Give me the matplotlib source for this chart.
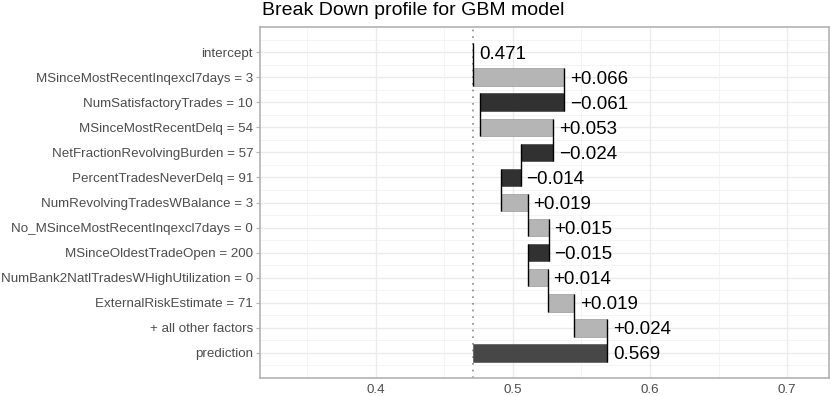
import numpy as np
import matplotlib
matplotlib.use('Agg')
import matplotlib.pyplot as plt

plt.rcParams['font.family'] = ['Liberation Sans', 'DejaVu Sans']

# break down data for the GBM model
features = ['MSinceMostRecentInqexcl7days = 3', 'NumSatisfactoryTrades = 10',
            'MSinceMostRecentDelq = 54', 'NetFractionRevolvingBurden = 57',
            'PercentTradesNeverDelq = 91', 'NumRevolvingTradesWBalance = 3',
            'No_MSinceMostRecentInqexcl7days = 0', 'MSinceOldestTradeOpen = 200',
            'NumBank2NatlTradesWHighUtilization = 0', 'ExternalRiskEstimate = 71',
            '+ all other factors']
contrib = [0.0662, -0.0612, 0.0534, -0.0238, -0.0142, 0.0192,
           0.0152, -0.0148, 0.0142, 0.0194, 0.0240]
intercept = 0.4712
xticks = [0.4, 0.5, 0.6, 0.7]

pos_col = '#b5b5b5'
neg_col = '#313131'
pred_col = '#474747'

labels = ['intercept'] + features + ['prediction']
cum = intercept + np.cumsum(contrib)
starts = np.concatenate([[intercept], cum[:-1]])
prediction = cum[-1]
n = len(labels)
h = 0.7
vsize = 13.5

fig = plt.figure(figsize=(8.3, 3.96), dpi=100)
ax = fig.add_axes([260/830, 1 - 378/396, 569/830, 351/396])

# grid
for y in range(n):
    ax.axhline(y, color='#ebebeb', lw=1.0, zorder=0)
for y in np.arange(-0.5, n, 1.0):
    ax.axhline(y, color='#f3f3f3', lw=0.6, zorder=0)
for x in xticks:
    ax.axvline(x, color='#ebebeb', lw=1.0, zorder=0)
for x in [0.35, 0.45, 0.55, 0.65]:
    ax.axvline(x, color='#f3f3f3', lw=0.6, zorder=0)

ax.axvline(intercept, color='#888888', lw=1.2, ls=(0, (1, 3)), zorder=1)

# contribution bars
for i, c in enumerate(contrib):
    y = i + 1
    col = pos_col if c > 0 else neg_col
    ax.barh(y, c, left=starts[i], height=h, color=col,
            edgecolor='#8a8a8a' if c > 0 else neg_col, lw=0.4, zorder=2)
    ax.annotate('%+.3f' % c if c > 0 else '\u2212%.3f' % abs(c),
                xy=(max(starts[i], cum[i]), y), xytext=(4, 0),
                textcoords='offset points', va='center_baseline', ha='left',
                fontsize=vsize, color='black')

# prediction bar
ax.barh(n - 1, prediction - intercept, left=intercept, height=h,
        color=pred_col, edgecolor=pred_col, lw=0.4, zorder=2)
ax.annotate('%.3f' % prediction, xy=(prediction, n - 1), xytext=(4, 0),
            textcoords='offset points', va='center_baseline', ha='left',
            fontsize=vsize)
ax.annotate('%.3f' % intercept, xy=(intercept, 0), xytext=(4, 0),
            textcoords='offset points', va='center_baseline', ha='left',
            fontsize=vsize)

# connector segments
ends = np.concatenate([[intercept], cum])
for i in range(n - 1):
    ax.plot([ends[i], ends[i]], [i - h/2, i + 1 + h/2], color='black',
            lw=1.0, zorder=3, solid_capstyle='butt')

ax.set_xlim(0.3156, 0.7305)
ax.set_ylim(n, -1)
ax.set_yticks(range(n))
ax.set_yticklabels(labels)
ax.set_xticks(xticks)
ax.set_xticklabels([str(x) for x in xticks])
ax.tick_params(axis='y', length=3, width=0.8, color='#b3b3b3',
               labelsize=9.6, labelcolor='#4d4d4d', pad=2)
ax.tick_params(axis='x', length=0, labelsize=9.6, labelcolor='#4d4d4d', pad=4)
for s in ax.spines.values():
    s.set_color('#b3b3b3')
    s.set_linewidth(1.2)

fig.text(262/830, 1 - 15/396, 'Break Down profile for GBM model',
         fontsize=14, va='baseline', ha='left')

fig.savefig('out.png', dpi=100)
